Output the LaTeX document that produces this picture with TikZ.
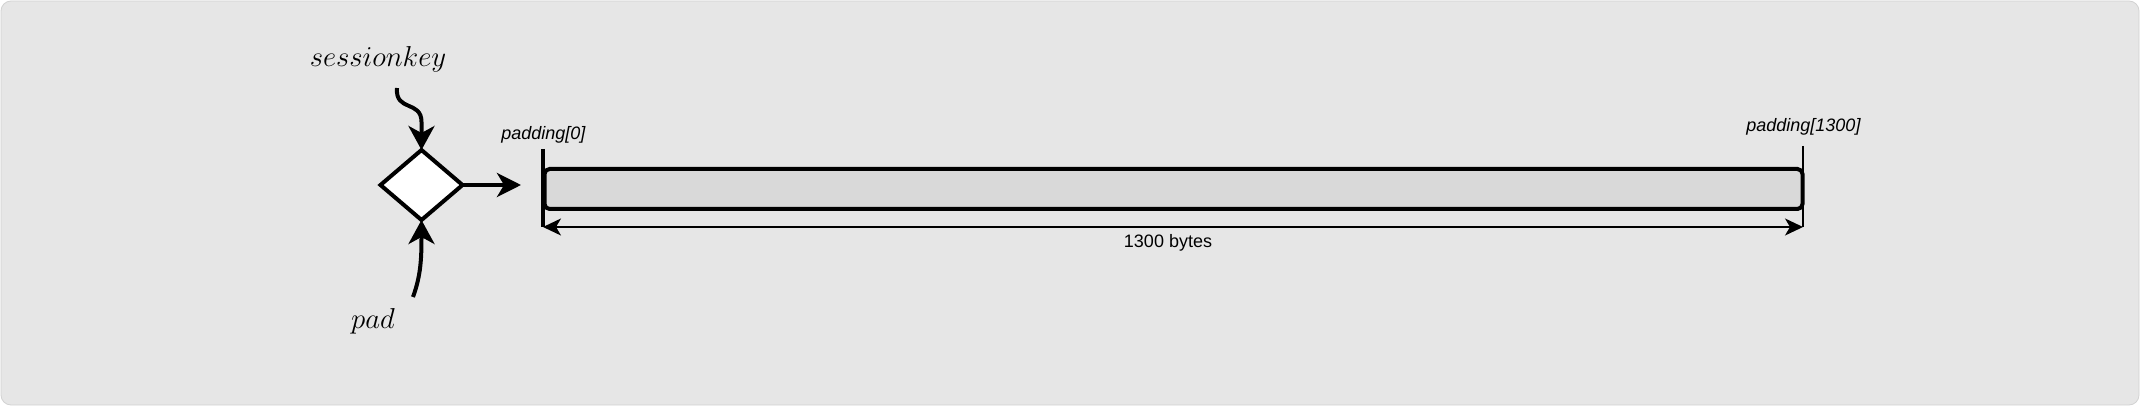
\documentclass[tikz,border=0pt]{standalone}
\usepackage{fontspec}
\newfontfamily\lab{Liberation Sans}
\usetikzlibrary{shapes.geometric,arrows.meta}
\definecolor{bgc}{HTML}{E6E6E6}
\definecolor{bgedge}{HTML}{D2D2D2}
\definecolor{barc}{HTML}{D9D9D9}
\tikzset{
  bigtip/.style={-{Stealth[length=12pt,width=13pt,inset=3.5pt]}},
  dimtip/.style={{Stealth[length=9pt,width=8.5pt,inset=2.5pt]}-{Stealth[length=9pt,width=8.5pt,inset=2.5pt]}},
  mathlabel/.style={font=\fontsize{14}{16}\selectfont, inner sep=0pt},
  sanslabel/.style={font=\lab\fontsize{9}{11}\selectfont, inner sep=0pt},
  thick line/.style={line width=2pt},
}
\begin{document}
\begin{tikzpicture}[x=0.5pt,y=-0.5pt]
\useasboundingbox (0,0) rectangle (2140,406);
\path[fill=bgc, draw=bgedge, line width=0.4pt, rounded corners=5pt] (1,1) rectangle (2139,405);

% combiner
\node (dia) [diamond, draw, fill=white, thick line, minimum width=41pt, minimum height=35pt, inner sep=0pt, outer sep=0pt] at (421.5,185) {};

% labels
\node (sk) [mathlabel, anchor=base] at (378,67) {$sessionkey$};
\node (pad) [mathlabel, anchor=base] at (373,328) {$pad$};
\node (p0) [sanslabel, anchor=base west] at (501,140) {\itshape padding[0]};
\node (p1) [sanslabel, anchor=base west] at (1746,132) {\itshape padding[1300]};

% bar
\node (bar) [draw, fill=barc, thick line, rounded corners=2.5pt, minimum width=629pt, minimum height=20pt, inner sep=0pt] at (1173.5,189) {};

% ticks
\coordinate (t0top) at (543,149);
\coordinate (t0bot) at (543,227);
\coordinate (t1top) at (1803,146);
\coordinate (t1bot) at (1803,227);
\draw[line width=1.6pt] (t0top) -- (t0bot);
\draw[line width=0.8pt] (t1top) -- (t1bot);

% dimension
\draw[line width=0.9pt, dimtip] (t0bot) -- (t1bot);
\node (bytes) [sanslabel, anchor=base] at (1168,248) {1300 bytes};

% inputs
\coordinate (skstart) at (397,88);
\coordinate (padstart) at (413,297);
\coordinate (outend) at (521,185);
\draw[thick line, bigtip] (skstart) .. controls (395,112) and (421.5,100) .. (421.5,122) -- (dia.north);
\draw[thick line, bigtip] (padstart) .. controls (421,275) and (421.5,258) .. (dia.south);
\draw[thick line, -{Stealth[length=12pt,width=12pt,inset=3.5pt]}] (dia.east) -- (outend);
\end{tikzpicture}
\end{document}
